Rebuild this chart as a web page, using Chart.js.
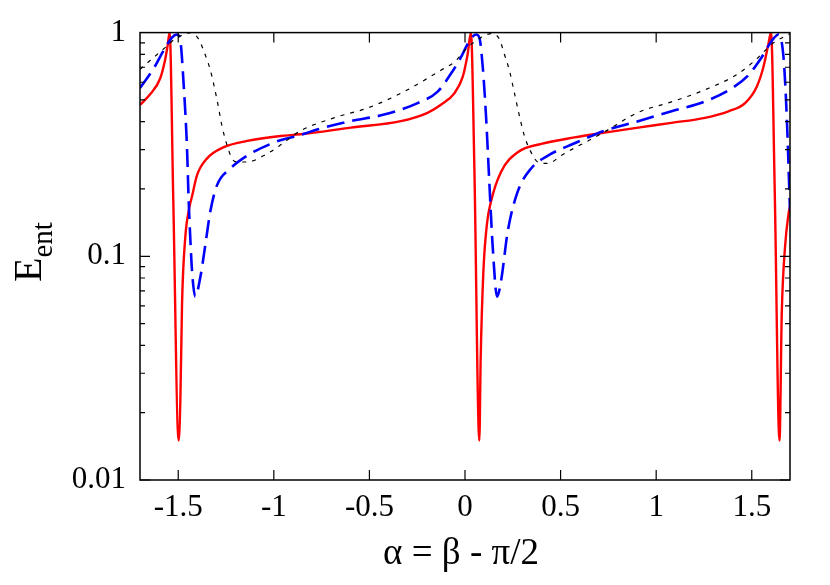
<!DOCTYPE html>
<html>
<head>
<meta charset="utf-8">
<script src="https://cdn.jsdelivr.net/npm/chart.js@4/dist/chart.umd.min.js"></script>
<style>
  body { margin: 0; background: white; }
  #wrap { width: 830px; height: 585px; }
</style>
</head>
<body>
<div id="wrap"><canvas id="grafico"></canvas></div>
<script>
// valores (alpha, E_ent)
const alphaRed = [-1.70, -1.647, -1.594, -1.568, -1.556, -1.545, -1.526, -1.498, -1.489, -1.480, -1.463, -1.442,
  -1.428, -1.402, -1.349, -1.264, -1.139, -0.965, -0.86, -0.598, -0.336, -0.196, -0.126, -0.056, -0.012, 0.014,
  0.031, 0.049, 0.075, 0.082, 0.096, 0.115, 0.136, 0.189, 0.276, 0.399, 0.573, 0.730, 0.906, 1.080, 1.255, 1.378,
  1.465, 1.526, 1.561, 1.587, 1.601, 1.620, 1.645, 1.657, 1.674, 1.692, 1.706];
const eentRed = [0.475, 0.53, 0.625, 0.76, 0.87, 1.0, 0.18, 0.015, 0.0225, 0.0618, 0.122, 0.165,
  0.185, 0.23, 0.274, 0.307, 0.328, 0.345, 0.351, 0.376, 0.402, 0.438, 0.476, 0.535, 0.634, 0.803,
  1.0, 0.25, 0.015, 0.035, 0.085, 0.14, 0.176, 0.239, 0.292, 0.318, 0.340, 0.357, 0.376, 0.395, 0.416, 0.445,
  0.484, 0.573, 0.702, 0.889, 1.0, 0.2, 0.015, 0.056, 0.11, 0.154, 0.176];

const alphaBlue = [-1.70, -1.629, -1.577, -1.533, -1.507, -1.489, -1.472, -1.454, -1.446, -1.437, -1.428, -1.411,
  -1.384, -1.358, -1.332, -1.297, -1.227, -1.139, -1.017, -0.948, -0.877, -0.773, -0.598, -0.423, -0.248, -0.143,
  -0.073, -0.021, 0.014, 0.058, 0.075, 0.093, 0.110, 0.127, 0.145, 0.168, 0.189, 0.224, 0.276, 0.346, 0.434,
  0.573, 0.730, 0.906, 1.080, 1.255, 1.395, 1.482, 1.552, 1.605, 1.640, 1.666, 1.683, 1.70];
const eentBlue = [0.565, 0.69, 0.83, 0.95, 0.98, 0.92, 0.593, 0.303, 0.183, 0.121, 0.0866, 0.066,
  0.081, 0.113, 0.159, 0.208, 0.247, 0.282, 0.318, 0.334, 0.345, 0.369, 0.402, 0.43, 0.484, 0.545,
  0.656, 0.776, 0.889, 0.98, 0.95, 0.70, 0.423, 0.216, 0.110, 0.066, 0.078, 0.13, 0.195, 0.247, 0.282,
  0.320, 0.364, 0.402, 0.445, 0.492, 0.563, 0.645, 0.776, 0.92, 0.98, 0.776, 0.423, 0.16];

const alphaBlack = [-1.70, -1.647, -1.577, -1.507, -1.454, -1.437, -1.393, -1.367, -1.332, -1.297, -1.271, -1.244,
  -1.218, -1.192, -1.139, -1.052, -0.975, -0.86, -0.685, -0.510, -0.318, -0.126, -0.056, 0.014, 0.084, 0.136,
  0.18, 0.206, 0.232, 0.259, 0.285, 0.311, 0.337, 0.381, 0.434, 0.503, 0.573, 0.661, 0.730, 0.906, 1.080,
  1.255, 1.430, 1.535, 1.605, 1.70];
const eentBlack = [0.685, 0.75, 0.845, 0.95, 0.99, 1.0, 0.935, 0.83, 0.679, 0.50, 0.382, 0.312,
  0.273, 0.264, 0.264, 0.282, 0.31, 0.364, 0.416, 0.46, 0.545, 0.679, 0.738, 0.859, 0.95, 0.99,
  0.935, 0.80, 0.679, 0.535, 0.423, 0.345, 0.302, 0.264, 0.26, 0.282, 0.305, 0.334, 0.36, 0.44, 0.49,
  0.555, 0.656, 0.776, 0.889, 0.99];

const xTicks = [-1.5, -1, -0.5, 0, 0.5, 1, 1.5];
const yTicks = [0.01, 0.1, 1];

const pontos = (xs, ys) => xs.map((x, i) => ({ x: x, y: ys[i] }));

const serif = '"Liberation Serif", "DejaVu Serif", serif';

// ticks para dentro, caixa e titulos dos eixos (estilo gnuplot)
const molduraPlugin = {
  id: 'moldura',
  afterDraw(chart) {
    const c = chart.ctx;
    const a = chart.chartArea;
    const xs = chart.scales.x, ys = chart.scales.y;
    c.save();
    c.strokeStyle = 'black';
    c.lineWidth = 1.5;
    c.strokeRect(a.left, a.top, a.right - a.left, a.bottom - a.top);
    c.lineWidth = 1.2;
    c.beginPath();
    xTicks.forEach(v => {
      const px = xs.getPixelForValue(v);
      c.moveTo(px, a.bottom); c.lineTo(px, a.bottom - 10);
      c.moveTo(px, a.top); c.lineTo(px, a.top + 10);
    });
    for (let d = -2; d < 0; d++) {
      for (let k = 1; k <= 9; k++) {
        const v = k * Math.pow(10, d);
        const py = ys.getPixelForValue(v);
        const len = k === 1 ? 10 : 5;
        c.moveTo(a.left, py); c.lineTo(a.left + len, py);
        c.moveTo(a.right, py); c.lineTo(a.right - len, py);
      }
    }
    c.stroke();

    // titulo x
    c.fillStyle = 'black';
    c.font = '37px ' + serif;
    c.textAlign = 'center';
    c.textBaseline = 'alphabetic';
    c.fillText('α = β - π/2', (a.left + a.right) / 2 - 4, 564);

    // titulo y: E com subscrito ent
    c.translate(41, 252);
    c.rotate(-Math.PI / 2);
    c.textAlign = 'left';
    c.font = '40px ' + serif;
    const wE = c.measureText('E').width;
    c.font = '29px ' + serif;
    const wS = c.measureText('ent').width;
    const x0 = -(wE + wS) / 2;
    c.font = '40px ' + serif;
    c.fillText('E', x0, 0);
    c.font = '29px ' + serif;
    c.fillText('ent', x0 + wE, 11);
    c.restore();
  }
};

const ctx = document.getElementById('grafico');

const chart = new Chart(ctx, {
  type: 'line',
  data: {
    datasets: [
      {
        data: pontos(alphaBlack, eentBlack),
        borderColor: 'black',
        borderWidth: 1.2,
        borderDash: [4, 6],
        pointRadius: 0,
        cubicInterpolationMode: 'monotone'
      },
      {
        data: pontos(alphaBlue, eentBlue),
        borderColor: '#0000ff',
        borderWidth: 2.6,
        borderDash: [18, 8],
        pointRadius: 0,
        cubicInterpolationMode: 'monotone'
      },
      {
        data: pontos(alphaRed, eentRed),
        borderColor: '#ff0000',
        borderWidth: 2.4,
        pointRadius: 0,
        cubicInterpolationMode: 'monotone'
      }
    ]
  },
  options: {
    responsive: true,
    maintainAspectRatio: false,
    animation: false,
    layout: { padding: { left: 0, top: 25, right: 40, bottom: 0 } },
    plugins: { legend: { display: false }, tooltip: { enabled: false } },
    scales: {
      x: {
        type: 'linear',
        min: -1.7,
        max: 1.7,
        grid: { display: false, drawTicks: false },
        border: { display: false },
        afterFit: s => { s.height = 105; },
        afterBuildTicks: s => { s.ticks = xTicks.map(v => ({ value: v })); },
        ticks: {
          color: 'black',
          padding: 9,
          font: { family: serif, size: 31 },
          callback: v => String(v)
        }
      },
      y: {
        type: 'logarithmic',
        min: 0.01,
        max: 1,
        grid: { display: false, drawTicks: false },
        border: { display: false },
        afterFit: s => { s.width = 140; },
        afterBuildTicks: s => { s.ticks = yTicks.map(v => ({ value: v })); },
        ticks: {
          color: 'black',
          padding: 14,
          autoSkip: false,
          font: { family: serif, size: 31 },
          callback: v => String(v)
        }
      }
    }
  },
  plugins: [molduraPlugin]
});
</script>
</body>
</html>
